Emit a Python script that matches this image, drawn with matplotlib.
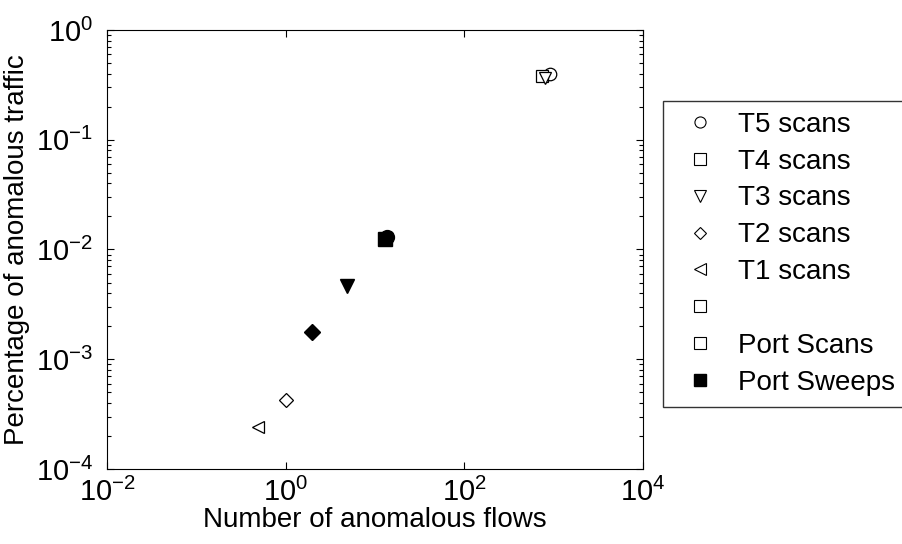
import matplotlib
matplotlib.use("Agg")
import matplotlib.pyplot as plt
from matplotlib.lines import Line2D
from matplotlib.ticker import LogLocator, NullLocator

plt.rcParams['font.family'] = ['Liberation Sans', 'DejaVu Sans']
plt.rcParams['mathtext.fontset'] = 'custom'
plt.rcParams['mathtext.rm'] = 'Liberation Sans'
plt.rcParams['mathtext.it'] = 'Liberation Sans'

# Open markers: scan types (flows, fraction of traffic)
scan_labels = ['T5 scans', 'T4 scans', 'T3 scans', 'T2 scans', 'T1 scans']
scan_markers = ['o', 's', 'v', 'D', '<']
scan_flows = [905, 743, 803, 1.0, 0.49]
scan_traffic = [0.397, 0.381, 0.365, 0.000425, 0.000241]

# Filled markers
filled_markers = ['o', 's', 'v', 'D']
filled_flows = [13.8, 13.0, 4.9, 1.98]
filled_traffic = [0.0131, 0.0124, 0.00465, 0.00177]

xticks = [1e-2, 1e0, 1e2, 1e4]
xtick_labels = [r'$10^{-2}$', r'$10^{0}$', r'$10^{2}$', r'$10^{4}$']
yticks = [1e-4, 1e-3, 1e-2, 1e-1, 1e0]
ytick_labels = [r'$10^{-4}$', r'$10^{-3}$', r'$10^{-2}$', r'$10^{-1}$', r'$10^{0}$']

fig = plt.figure(figsize=(9.03, 5.44), dpi=100)
ax = fig.add_axes([0.1185, 0.1379, 0.5935, 0.807])

for lab, m, x, y in zip(scan_labels, scan_markers, scan_flows, scan_traffic):
    ms = 7 if m == 'D' else 9
    ax.plot([x], [y], linestyle='none', marker=m, ms=ms, mfc='white',
            mec='black', mew=0.9, label=lab)

for m, x, y in zip(filled_markers, filled_flows, filled_traffic):
    ms = 8 if m == 'D' else 10
    ax.plot([x], [y], linestyle='none', marker=m, ms=ms, mfc='black',
            mec='black')

ax.set_xscale('log')
ax.set_yscale('log')
ax.set_xlim(1e-2, 1e4)
ax.set_ylim(1e-4, 1e0)
ax.set_xticks(xticks)
ax.set_xticklabels(xtick_labels)
ax.set_yticks(yticks)
ax.set_yticklabels(ytick_labels)
ax.xaxis.set_minor_locator(NullLocator())
ax.yaxis.set_minor_locator(LogLocator(base=10, subs=range(2, 10), numticks=20))
ax.tick_params(which='both', direction='in', top=True, right=True,
               labelsize=21, width=0.8)
ax.tick_params(which='major', length=5)
ax.tick_params(which='minor', length=3)
ax.tick_params(axis='x', pad=6)
ax.tick_params(axis='y', pad=10)
for s in ax.spines.values():
    s.set_linewidth(0.8)

ax.set_xlabel('Number of anomalous flows', fontsize=20, labelpad=0)
ax.set_ylabel('Percentage of anomalous traffic', fontsize=20, labelpad=4)

# Legend entries
handles = []
for lab, m in zip(scan_labels, scan_markers):
    handles.append(Line2D([], [], linestyle='none', marker=m,
                          ms=6 if m == 'D' else 8, mfc='white', mec='black',
                          mew=0.8, label=lab))
handles.append(Line2D([], [], linestyle='none', marker='s', ms=8,
                      mfc='white', mec='black', mew=0.8, label=' '))
handles.append(Line2D([], [], linestyle='none', marker='s', ms=8,
                      mfc='white', mec='black', mew=0.8, label='Port Scans'))
handles.append(Line2D([], [], linestyle='none', marker='s', ms=8,
                      mfc='black', mec='black', label='Port Sweeps'))

leg = fig.legend(handles=handles, loc='upper left',
                 bbox_to_anchor=(0.734, 0.815), fontsize=20,
                 frameon=True, fancybox=False, handlelength=1.9,
                 handletextpad=0.4, labelspacing=0.39, borderpad=0.4,
                 borderaxespad=0, edgecolor='black')
leg.get_frame().set_linewidth(1.0)

fig.savefig('out.png', dpi=100)
